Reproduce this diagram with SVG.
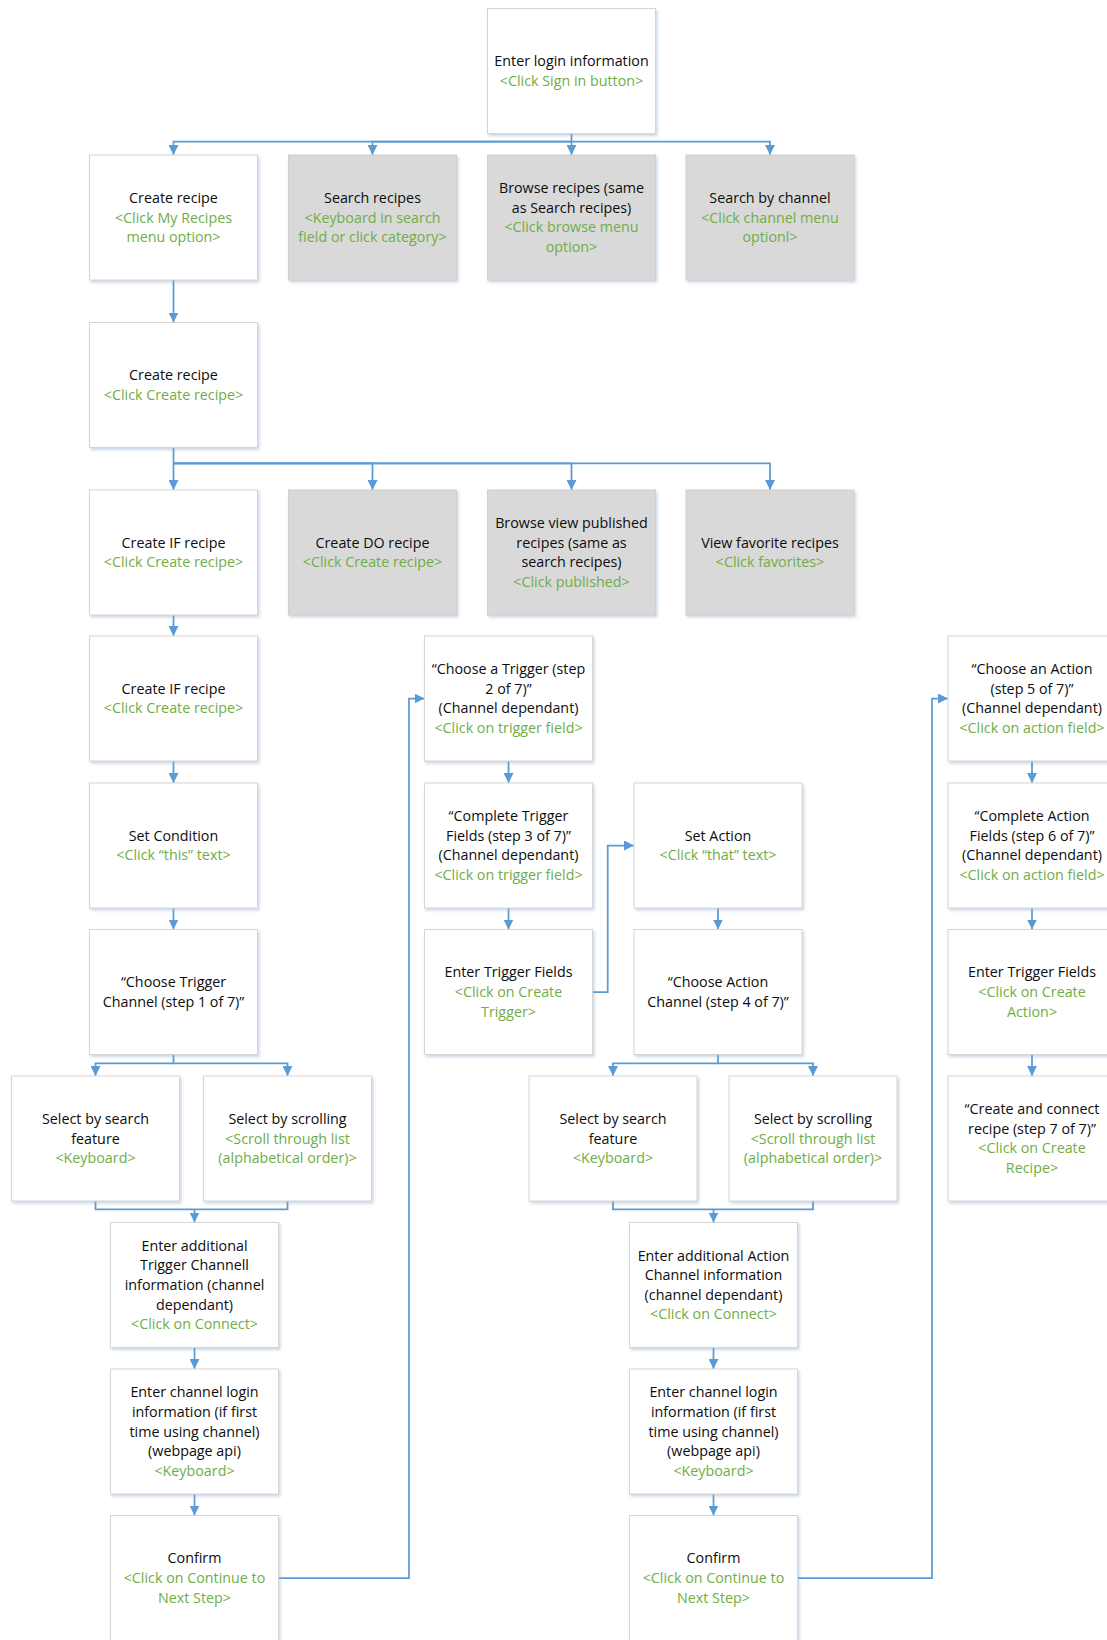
<svg xmlns="http://www.w3.org/2000/svg" width="1107" height="1640" viewBox="0 0 1107 1640">
  <style>
    .box { fill: #ffffff; stroke: #d5d5d5; stroke-width: 1; filter: url(#shadow); }
    .gray { fill: #d9d9d9; stroke: #d0d0d0; }
    text { font-family: "Open Sans", "Noto Sans", "Liberation Sans", sans-serif; font-size: 14.3px; text-anchor: middle; fill: #0d0d0d; }
    .g { fill: #70ad47; }
    .conn path { fill: none; stroke: #5b9bd5; stroke-width: 1.75; }
    .arr { marker-end: url(#arrow); }
  </style>
  <defs>
    <filter id="shadow" x="-10%" y="-10%" width="125%" height="125%">
      <feDropShadow dx="1.5" dy="2" stdDeviation="1.5" flood-color="#8aa6c8" flood-opacity="0.45"/>
    </filter>
    <marker id="arrow" viewBox="0 0 10 10" refX="10" refY="5" markerWidth="10" markerHeight="10" markerUnits="userSpaceOnUse" orient="auto">
      <path d="M0,0 L10,5 L0,10 z" fill="#5b9bd5"/>
    </marker>
  </defs>
  <rect width="1107" height="1640" fill="#ffffff"/>

  <!-- connectors -->
  <g id="connectors" class="conn">
    <path class="arr" d="M571.5,134 V155"/>
    <path class="arr" d="M571.5,141.7 H173.5 V155"/>
    <path class="arr" d="M571.5,141.7 H372.5 V155"/>
    <path class="arr" d="M571.5,141.7 H770 V155"/>
    <path class="arr" d="M173.5,280 V322.5"/>
    <path class="arr" d="M173.5,447.5 V490"/>
    <path class="arr" d="M173.5,463.3 H372.5 V490"/>
    <path class="arr" d="M173.5,463.3 H571.5 V490"/>
    <path class="arr" d="M173.5,463.3 H770 V490"/>
    <path class="arr" d="M173.5,615 V636"/>
    <path class="arr" d="M173.5,761 V783"/>
    <path class="arr" d="M173.5,908 V929.5"/>
    <path class="arr" d="M173.5,1054.5 V1063.3 H95.5 V1076"/>
    <path class="arr" d="M173.5,1063.3 H287.5 V1076"/>
    <path d="M95.5,1201 V1209.3 H287.5 V1201"/>
    <path class="arr" d="M194.5,1209.3 V1222.5"/>
    <path class="arr" d="M194.5,1347.5 V1369"/>
    <path class="arr" d="M194.5,1494 V1515.5"/>
    <path class="arr" d="M278.5,1578 H409 V698.5 H424.5"/>
    <path class="arr" d="M508.5,761 V783"/>
    <path class="arr" d="M508.5,908 V929.5"/>
    <path class="arr" d="M592.5,992 H607.7 V845.5 H634"/>
    <path class="arr" d="M718,908 V929.5"/>
    <path class="arr" d="M718,1054.5 V1063.3 H613 V1076"/>
    <path class="arr" d="M718,1063.3 H813 V1076"/>
    <path d="M613,1201 V1209.3 H813 V1201"/>
    <path class="arr" d="M713.5,1209.3 V1222.5"/>
    <path class="arr" d="M713.5,1347.5 V1369"/>
    <path class="arr" d="M713.5,1494 V1515.5"/>
    <path class="arr" d="M797.5,1578 H932 V698.5 H948"/>
    <path class="arr" d="M1032,761 V783"/>
    <path class="arr" d="M1032,908 V929.5"/>
    <path class="arr" d="M1032,1054.5 V1076"/>
  </g>

  <!-- start -->
  <g id="login">
    <rect class="box" x="487.5" y="8.5" width="168" height="125"/>
    <text x="571.5" y="66.2">Enter login information</text>
    <text class="g" x="571.5" y="85.8">&lt;Click Sign in button&gt;</text>
  </g>

  <!-- first choice row -->
  <g id="create-recipe-menu">
    <rect class="box" x="89.5" y="155" width="168" height="125"/>
    <text x="173.5" y="202.9">Create recipe</text>
    <text class="g" x="173.5" y="222.5">&lt;Click My Recipes</text>
    <text class="g" x="173.5" y="242.1">menu option&gt;</text>
  </g>
  <g id="search-recipes">
    <rect class="box gray" x="288.5" y="155" width="168" height="125"/>
    <text x="372.5" y="202.9">Search recipes</text>
    <text class="g" x="372.5" y="222.5">&lt;Keyboard in search</text>
    <text class="g" x="372.5" y="242.1">field or click category&gt;</text>
  </g>
  <g id="browse-recipes">
    <rect class="box gray" x="487.5" y="155" width="168" height="125"/>
    <text x="571.5" y="193.1">Browse recipes (same</text>
    <text x="571.5" y="212.7">as Search recipes)</text>
    <text class="g" x="571.5" y="232.3">&lt;Click browse menu</text>
    <text class="g" x="571.5" y="251.9">option&gt;</text>
  </g>
  <g id="search-channel">
    <rect class="box gray" x="686" y="155" width="168" height="125"/>
    <text x="770" y="202.9">Search by channel</text>
    <text class="g" x="770" y="222.5">&lt;Click channel menu</text>
    <text class="g" x="770" y="242.1">optionl&gt;</text>
  </g>

  <g id="create-recipe">
    <rect class="box" x="89.5" y="322.5" width="168" height="125"/>
    <text x="173.5" y="380.2">Create recipe</text>
    <text class="g" x="173.5" y="399.8">&lt;Click Create recipe&gt;</text>
  </g>

  <!-- recipe type row -->
  <g id="create-if">
    <rect class="box" x="89.5" y="490" width="168" height="125"/>
    <text x="173.5" y="547.7">Create IF recipe</text>
    <text class="g" x="173.5" y="567.3">&lt;Click Create recipe&gt;</text>
  </g>
  <g id="create-do">
    <rect class="box gray" x="288.5" y="490" width="168" height="125"/>
    <text x="372.5" y="547.7">Create DO recipe</text>
    <text class="g" x="372.5" y="567.3">&lt;Click Create recipe&gt;</text>
  </g>
  <g id="browse-published">
    <rect class="box gray" x="487.5" y="490" width="168" height="125"/>
    <text x="571.5" y="528.1">Browse view published</text>
    <text x="571.5" y="547.7">recipes (same as</text>
    <text x="571.5" y="567.3">search recipes)</text>
    <text class="g" x="571.5" y="586.9">&lt;Click published&gt;</text>
  </g>
  <g id="favorites">
    <rect class="box gray" x="686" y="490" width="168" height="125"/>
    <text x="770" y="547.7">View favorite recipes</text>
    <text class="g" x="770" y="567.3">&lt;Click favorites&gt;</text>
  </g>

  <!-- trigger branch -->
  <g id="create-if-2">
    <rect class="box" x="89.5" y="636" width="168" height="125"/>
    <text x="173.5" y="693.7">Create IF recipe</text>
    <text class="g" x="173.5" y="713.3">&lt;Click Create recipe&gt;</text>
  </g>
  <g id="set-condition">
    <rect class="box" x="89.5" y="783" width="168" height="125"/>
    <text x="173.5" y="840.7">Set Condition</text>
    <text class="g" x="173.5" y="860.3">&lt;Click “this” text&gt;</text>
  </g>
  <g id="choose-trigger-channel">
    <rect class="box" x="89.5" y="929.5" width="168" height="125"/>
    <text x="173.5" y="987.2">“Choose Trigger</text>
    <text x="173.5" y="1006.8">Channel (step 1 of 7)”</text>
  </g>
  <g id="trigger-select-search">
    <rect class="box" x="11.5" y="1076" width="168" height="125"/>
    <text x="95.5" y="1123.9">Select by search</text>
    <text x="95.5" y="1143.5">feature</text>
    <text class="g" x="95.5" y="1163.1">&lt;Keyboard&gt;</text>
  </g>
  <g id="trigger-select-scroll">
    <rect class="box" x="203.5" y="1076" width="168" height="125"/>
    <text x="287.5" y="1123.9">Select by scrolling</text>
    <text class="g" x="287.5" y="1143.5">&lt;Scroll through list</text>
    <text class="g" x="287.5" y="1163.1">(alphabetical order)&gt;</text>
  </g>
  <g id="trigger-channel-info">
    <rect class="box" x="110.5" y="1222.5" width="168" height="125"/>
    <text x="194.5" y="1250.8">Enter additional</text>
    <text x="194.5" y="1270.4">Trigger Channell</text>
    <text x="194.5" y="1290">information (channel</text>
    <text x="194.5" y="1309.6">dependant)</text>
    <text class="g" x="194.5" y="1329.2">&lt;Click on Connect&gt;</text>
  </g>
  <g id="trigger-channel-login">
    <rect class="box" x="110.5" y="1369" width="168" height="125"/>
    <text x="194.5" y="1397.3">Enter channel login</text>
    <text x="194.5" y="1416.9">information (if first</text>
    <text x="194.5" y="1436.5">time using channel)</text>
    <text x="194.5" y="1456.1">(webpage api)</text>
    <text class="g" x="194.5" y="1475.7">&lt;Keyboard&gt;</text>
  </g>
  <g id="trigger-confirm">
    <rect class="box" x="110.5" y="1515.5" width="168" height="125"/>
    <text x="194.5" y="1563.4">Confirm</text>
    <text class="g" x="194.5" y="1583">&lt;Click on Continue to</text>
    <text class="g" x="194.5" y="1602.6">Next Step&gt;</text>
  </g>

  <!-- trigger steps -->
  <g id="choose-trigger">
    <rect class="box" x="424.5" y="636" width="168" height="125"/>
    <text x="508.5" y="674.1">“Choose a Trigger (step</text>
    <text x="508.5" y="693.7">2 of 7)”</text>
    <text x="508.5" y="713.3">(Channel dependant)</text>
    <text class="g" x="508.5" y="732.9">&lt;Click on trigger field&gt;</text>
  </g>
  <g id="complete-trigger">
    <rect class="box" x="424.5" y="783" width="168" height="125"/>
    <text x="508.5" y="821.1">“Complete Trigger</text>
    <text x="508.5" y="840.7">Fields (step 3 of 7)”</text>
    <text x="508.5" y="860.3">(Channel dependant)</text>
    <text class="g" x="508.5" y="879.9">&lt;Click on trigger field&gt;</text>
  </g>
  <g id="enter-trigger-fields">
    <rect class="box" x="424.5" y="929.5" width="168" height="125"/>
    <text x="508.5" y="977.4">Enter Trigger Fields</text>
    <text class="g" x="508.5" y="997">&lt;Click on Create</text>
    <text class="g" x="508.5" y="1016.6">Trigger&gt;</text>
  </g>

  <!-- action branch -->
  <g id="set-action">
    <rect class="box" x="634" y="783" width="168" height="125"/>
    <text x="718" y="840.7">Set Action</text>
    <text class="g" x="718" y="860.3">&lt;Click “that” text&gt;</text>
  </g>
  <g id="choose-action-channel">
    <rect class="box" x="634" y="929.5" width="168" height="125"/>
    <text x="718" y="987.2">“Choose Action</text>
    <text x="718" y="1006.8">Channel (step 4 of 7)”</text>
  </g>
  <g id="action-select-search">
    <rect class="box" x="529" y="1076" width="168" height="125"/>
    <text x="613" y="1123.9">Select by search</text>
    <text x="613" y="1143.5">feature</text>
    <text class="g" x="613" y="1163.1">&lt;Keyboard&gt;</text>
  </g>
  <g id="action-select-scroll">
    <rect class="box" x="729" y="1076" width="168" height="125"/>
    <text x="813" y="1123.9">Select by scrolling</text>
    <text class="g" x="813" y="1143.5">&lt;Scroll through list</text>
    <text class="g" x="813" y="1163.1">(alphabetical order)&gt;</text>
  </g>
  <g id="action-channel-info">
    <rect class="box" x="629.5" y="1222.5" width="168" height="125"/>
    <text x="713.5" y="1260.6">Enter additional Action</text>
    <text x="713.5" y="1280.2">Channel information</text>
    <text x="713.5" y="1299.8">(channel dependant)</text>
    <text class="g" x="713.5" y="1319.4">&lt;Click on Connect&gt;</text>
  </g>
  <g id="action-channel-login">
    <rect class="box" x="629.5" y="1369" width="168" height="125"/>
    <text x="713.5" y="1397.3">Enter channel login</text>
    <text x="713.5" y="1416.9">information (if first</text>
    <text x="713.5" y="1436.5">time using channel)</text>
    <text x="713.5" y="1456.1">(webpage api)</text>
    <text class="g" x="713.5" y="1475.7">&lt;Keyboard&gt;</text>
  </g>
  <g id="action-confirm">
    <rect class="box" x="629.5" y="1515.5" width="168" height="125"/>
    <text x="713.5" y="1563.4">Confirm</text>
    <text class="g" x="713.5" y="1583">&lt;Click on Continue to</text>
    <text class="g" x="713.5" y="1602.6">Next Step&gt;</text>
  </g>

  <!-- action steps -->
  <g id="choose-action">
    <rect class="box" x="948" y="636" width="168" height="125"/>
    <text x="1032" y="674.1">“Choose an Action</text>
    <text x="1032" y="693.7">(step 5 of 7)”</text>
    <text x="1032" y="713.3">(Channel dependant)</text>
    <text class="g" x="1032" y="732.9">&lt;Click on action field&gt;</text>
  </g>
  <g id="complete-action">
    <rect class="box" x="948" y="783" width="168" height="125"/>
    <text x="1032" y="821.1">“Complete Action</text>
    <text x="1032" y="840.7">Fields (step 6 of 7)”</text>
    <text x="1032" y="860.3">(Channel dependant)</text>
    <text class="g" x="1032" y="879.9">&lt;Click on action field&gt;</text>
  </g>
  <g id="enter-action-fields">
    <rect class="box" x="948" y="929.5" width="168" height="125"/>
    <text x="1032" y="977.4">Enter Trigger Fields</text>
    <text class="g" x="1032" y="997">&lt;Click on Create</text>
    <text class="g" x="1032" y="1016.6">Action&gt;</text>
  </g>
  <g id="create-connect">
    <rect class="box" x="948" y="1076" width="168" height="125"/>
    <text x="1032" y="1114.1">“Create and connect</text>
    <text x="1032" y="1133.7">recipe (step 7 of 7)”</text>
    <text class="g" x="1032" y="1153.3">&lt;Click on Create</text>
    <text class="g" x="1032" y="1172.9">Recipe&gt;</text>
  </g>
</svg>
